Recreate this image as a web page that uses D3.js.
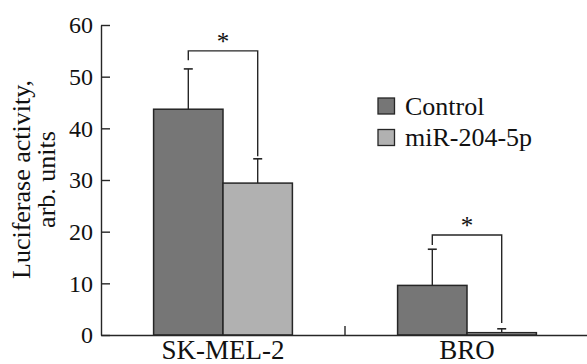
<!DOCTYPE html>
<html>
<head>
<meta charset="utf-8">
<script src="https://cdn.jsdelivr.net/npm/d3@7"></script>
<style>
  html, body { margin: 0; padding: 0; background: #fff; }
  svg { display: block; }
</style>
</head>
<body>
<svg id="chart" width="587" height="364"></svg>
<script>
// ---- data ----
const categories = ["SK-MEL-2", "BRO"];
const seriesNames = ["Control", "miR-204-5p"];
const controlValues = [43.7, 9.6];
const controlErrorTop = [51.5, 16.6];
const mirValues = [29.4, 0.45];
const mirErrorTop = [34.1, 1.2];
const yTicks = [0, 10, 20, 30, 40, 50, 60];
const bracketTop = [55.0, 19.35];
const bracketLeftEnd = [53.2, 17.4];
const bracketRightEnd = [34.6, 2.3];
const significance = ["*", "*"];
const yTitleLines = ["Luciferase activity,", "arb. units"];

const colors = { "Control": "#767676", "miR-204-5p": "#b1b1b1" };
const stroke = "#262626";
const FONT = "'Liberation Serif', 'DejaVu Serif', serif";

// ---- layout ----
const svg = d3.select("#chart");
const x0 = 101, yBase = 335, yTop = 25;

const x = d3.scaleBand().domain(categories).range([x0, 589]).paddingInner(0).paddingOuter(0);
const xs = d3.scaleBand().domain(seriesNames).range([0, x.bandwidth()]).paddingInner(0).paddingOuter(0.758);
const y = d3.scaleLinear().domain([0, 60]).range([yBase, yTop]);

const rows = categories.map((c, i) => ({
  cat: c,
  series: [
    { name: "Control", value: controlValues[i], err: controlErrorTop[i] },
    { name: "miR-204-5p", value: mirValues[i], err: mirErrorTop[i] }
  ],
  bTop: bracketTop[i], bL: bracketLeftEnd[i], bR: bracketRightEnd[i], sig: significance[i]
}));

const g = svg.append("g");
const groups = g.selectAll("g.grp").data(rows).enter().append("g")
  .attr("transform", d => `translate(${x(d.cat)},0)`);

groups.selectAll("g.err").data(d => d.series).enter().append("g").each(function(s) {
  const cx = xs(s.name) + xs.bandwidth() / 2;
  const sel = d3.select(this);
  sel.append("line").attr("x1", cx).attr("x2", cx).attr("y1", y(s.value)).attr("y2", y(s.err))
    .attr("stroke", stroke).attr("stroke-width", 1.4);
  sel.append("line").attr("x1", cx - 4.5).attr("x2", cx + 4.5).attr("y1", y(s.err)).attr("y2", y(s.err))
    .attr("stroke", stroke).attr("stroke-width", 1.6);
});

groups.selectAll("rect").data(d => d.series).enter().append("rect")
  .attr("x", s => xs(s.name))
  .attr("y", s => y(s.value))
  .attr("width", xs.bandwidth())
  .attr("height", s => y(0) - y(s.value))
  .attr("fill", s => colors[s.name])
  .attr("stroke", stroke).attr("stroke-width", 1.5);

groups.each(function(d) {
  const sel = d3.select(this);
  const lx = xs("Control") + xs.bandwidth() / 2;
  const rx = xs("miR-204-5p") + xs.bandwidth() / 2;
  sel.append("path")
    .attr("d", `M${lx},${y(d.bL)}V${y(d.bTop)}H${rx}V${y(d.bR)}`)
    .attr("fill", "none").attr("stroke", stroke).attr("stroke-width", 1.4);
  sel.append("text").attr("x", (lx + rx) / 2).attr("y", y(d.bTop) - 1)
    .attr("text-anchor", "middle").attr("font-family", FONT).attr("font-size", 25)
    .attr("fill", "#111").text(d.sig);
});

// y axis
const yAxis = d3.axisLeft(y).tickValues(yTicks).tickSizeInner(-9).tickSizeOuter(0).tickPadding(8);
const yg = svg.append("g").attr("transform", `translate(${x0},0)`).call(yAxis)
  .attr("font-family", FONT).attr("font-size", 24);
yg.select(".domain").attr("stroke", stroke).attr("stroke-width", 1.4);
yg.selectAll(".tick line").attr("stroke", stroke).attr("stroke-width", 1.4);
yg.selectAll(".tick text").attr("fill", "#111");

// x axis
const xAxis = d3.axisBottom(x).tickSize(0).tickPadding(5);
const xg = svg.append("g").attr("transform", `translate(0,${yBase})`).call(xAxis)
  .attr("font-family", FONT).attr("font-size", 27);
xg.select(".domain").attr("stroke", stroke).attr("stroke-width", 1.4);
xg.selectAll(".tick text").attr("fill", "#111");
xg.selectAll("line.sep").data(categories.slice(1)).enter().append("line")
  .attr("class", "sep").attr("x1", d => x(d)).attr("x2", d => x(d))
  .attr("y1", 0).attr("y2", -9).attr("stroke", stroke).attr("stroke-width", 1.4);

// y title
const yt = svg.append("text").attr("transform", `translate(30,179.5) rotate(-90)`)
  .attr("text-anchor", "middle").attr("font-family", FONT).attr("font-size", 26).attr("fill", "#111");
yt.selectAll("tspan").data(yTitleLines).enter().append("tspan")
  .attr("x", 0).attr("dy", (d, i) => i === 0 ? 0 : 25).text(d => d);

// legend
const lg = svg.append("g").attr("transform", "translate(378,98)");
const li = lg.selectAll("g").data(seriesNames).enter().append("g")
  .attr("transform", (d, i) => `translate(0,${i * 31.5})`);
li.append("rect").attr("width", 16.5).attr("height", 16)
  .attr("fill", d => colors[d]).attr("stroke", stroke).attr("stroke-width", 1.3);
li.append("text").attr("x", 27).attr("y", 16.5).attr("font-family", FONT).attr("font-size", 26)
  .attr("fill", "#111").text(d => d);
</script>
</body>
</html>
